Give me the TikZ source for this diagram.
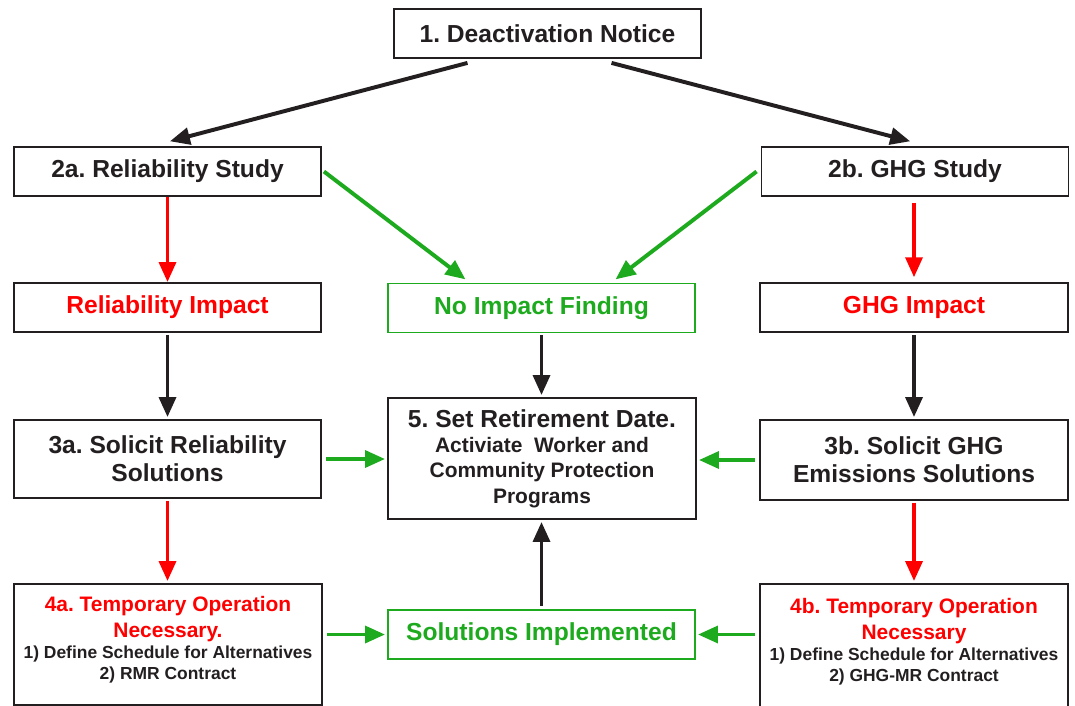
\documentclass[tikz,border=0pt]{standalone}
\usepackage{fontspec}
\setmainfont{Liberation Sans}
\usetikzlibrary{arrows.meta}
\definecolor{ink}{HTML}{231F20}
\definecolor{myred}{HTML}{FF0000}
\definecolor{mygreen}{HTML}{1EAA1E}
\frenchspacing
\newcommand{\headfont}{\fontsize{17.5}{18}\selectfont}
\newcommand{\titlefont}{\fontsize{14.9}{15}\selectfont\color{myred}}
\begin{document}
\begin{tikzpicture}[x=0.025cm, y=-0.025cm,
    box/.style={draw=ink, line width=1.3pt, minimum width=7.675cm, minimum height=1.225cm,
        inner sep=0pt, align=center, text=ink, font=\bfseries\fontsize{17.5}{20}\selectfont},
    flow/.style={line width=2.8pt, draw=ink, -{Triangle[length=0.5cm,width=0.42cm]}}]
    \useasboundingbox (0,0) rectangle (1075,705);

    % Boxes
    \node[box] (notice) at (547.5,33.5) {1. Deactivation Notice};
    \node[box] (relstudy) at (167.5,171.5) {2a. Reliability Study};
    \node[box] (ghgstudy) at (915,171.5) {2b. GHG Study};
    \node[box, text=myred] (relimpact) at (167.5,307.5) {Reliability Impact};
    \node[box, draw=mygreen, text=mygreen] (noimpact) at (541.5,308) {No Impact Finding};
    \node[box, text=myred, minimum width=7.7cm] (ghgimpact) at (914,307.5) {GHG Impact};
    \node[box, minimum height=1.95cm] (sol3a) at (167.5,459) {3a. Solicit Reliability\\Solutions};
    \node[box, minimum width=7.7cm, minimum height=3.025cm,
        font=\bfseries\fontsize{14.9}{18}\selectfont] (retire) at (542,458.5)
        {\headfont 5. Set Retirement Date.\\Activiate\ \ Worker and\\Community Protection\\Programs};
    \node[box, minimum width=7.7cm, minimum height=2cm] (sol3b) at (914,460) {3b. Solicit GHG\\Emissions Solutions};
    \node[box, minimum width=7.7cm, minimum height=3.025cm,
        font=\bfseries\fontsize{12.4}{15}\selectfont] (temp4a) at (168,644.5)
        {\titlefont 4a. Temporary Operation\\[3.4pt]\titlefont Necessary.\\1) Define Schedule for Alternatives\\2) RMR Contract\\[-6pt]};
    \node[box, draw=mygreen, text=mygreen] (solimp) at (541.5,634.5) {Solutions Implemented};
    \node[box, minimum width=7.7cm, minimum height=3.2cm,
        font=\bfseries\fontsize{12.4}{15}\selectfont] (temp4b) at (914,648)
        {\titlefont 4b. Temporary Operation\\[3.4pt]\titlefont Necessary\\1) Define Schedule for Alternatives\\2) GHG-MR Contract\\[-3.6pt]};

    % Arrows from the notice
    \draw[flow] ([xshift=-2cm,yshift=-0.1cm]notice.south) -- ([xshift=0.06cm,yshift=0.12cm]relstudy.north);
    \draw[flow] ([xshift=1.6cm,yshift=-0.1cm]notice.south) -- ([xshift=-0.12cm,yshift=0.12cm]ghgstudy.north);

    % Study outcomes
    \draw[flow, myred] (relstudy.south) -- (relimpact.north);
    \draw[flow, myred, shorten <=0.15cm, shorten >=0.12cm] (ghgimpact.north |- ghgstudy.south) -- (ghgimpact.north);
    \draw[flow, mygreen] ([xshift=0.05cm]relstudy.east) -- ([xshift=-1.9cm,yshift=0.08cm]noimpact.north);
    \draw[flow, mygreen] ([xshift=-0.1cm]ghgstudy.west) -- ([xshift=1.85cm,yshift=0.08cm]noimpact.north);

    % Towards the solicitations and the retirement date
    \draw[flow, shorten <=0.05cm, shorten >=0.05cm] (relimpact.south) -- (sol3a.north);
    \draw[flow, shorten <=0.05cm, shorten >=0.05cm] (noimpact.south) -- (noimpact.south |- retire.north);
    \draw[flow, shorten <=0.05cm, shorten >=0.05cm] (ghgimpact.south) -- (sol3b.north);
    \draw[flow, mygreen, shorten <=0.1cm, shorten >=0.05cm] (sol3a.east) -- (retire.west |- sol3a.east);
    \draw[flow, mygreen, shorten <=0.1cm, shorten >=0.05cm] (sol3b.west) -- (retire.east |- sol3b.west);

    % Temporary operation
    \draw[flow, myred, shorten <=0.05cm, shorten >=0.05cm] (sol3a.south) -- (sol3a.south |- temp4a.north);
    \draw[flow, myred, shorten <=0.05cm, shorten >=0.05cm] (sol3b.south) -- (temp4b.north);
    \draw[flow, mygreen, shorten <=0.1cm, shorten >=0.05cm] (temp4a.east |- solimp.west) -- (solimp.west);
    \draw[flow, mygreen, shorten <=0.1cm, shorten >=0.05cm] (temp4b.west |- solimp.east) -- (solimp.east);
    \draw[flow, shorten <=0.08cm, shorten >=0.05cm] (solimp.north) -- (solimp.north |- retire.south);
\end{tikzpicture}
\end{document}
